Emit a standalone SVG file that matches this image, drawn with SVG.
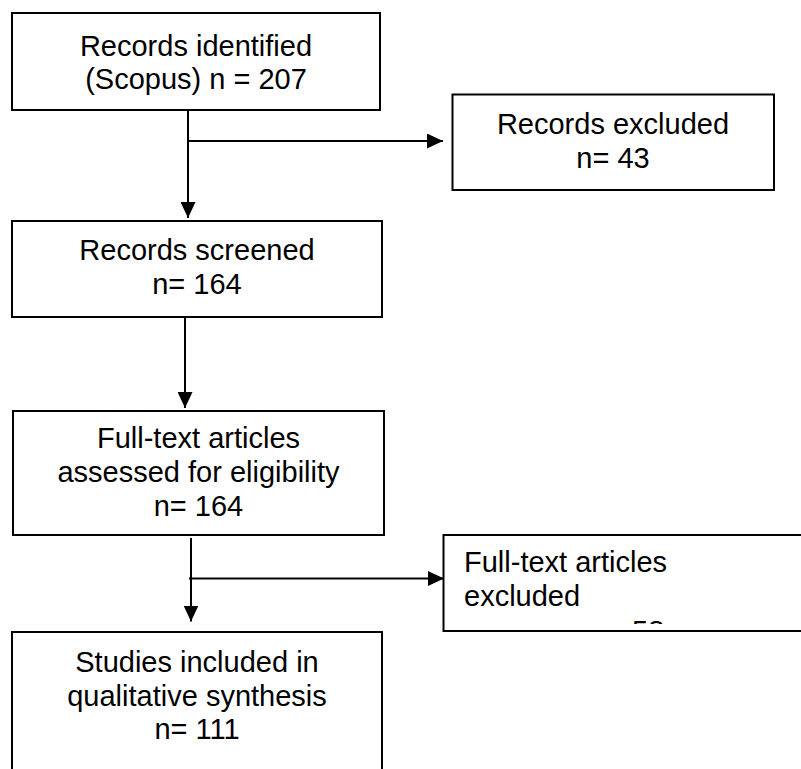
<svg xmlns="http://www.w3.org/2000/svg" width="801" height="769" viewBox="0 0 801 769">
  <style>
    .box { fill: #ffffff; stroke: #000000; stroke-width: 2; }
    .t { font-family: "Liberation Sans", Arial, sans-serif; font-size: 29px; fill: #000000; }
    .c { text-anchor: middle; }
    .l { text-anchor: start; }
    .edge { fill: none; stroke: #000000; stroke-width: 2; }
  </style>
  <defs>
    <marker id="arrow" viewBox="0 0 16 15" refX="16" refY="7.5" markerWidth="16" markerHeight="15" markerUnits="userSpaceOnUse" orient="auto">
      <path d="M0,0 L16,7.5 L0,15 Z" fill="#000000"/>
    </marker>
    <clipPath id="clipExcl">
      <rect x="443" y="535" width="370" height="89"/>
    </clipPath>
  </defs>
  <rect width="801" height="769" fill="#ffffff"/>

  <g id="connectors">
    <path class="edge" d="M188,103 L188,218" marker-end="url(#arrow)"/>
    <path class="edge" d="M187,141 L443,141" marker-end="url(#arrow)"/>
    <path class="edge" d="M185,309 L185,408" marker-end="url(#arrow)"/>
    <path class="edge" d="M191,538 L191,621.5" marker-end="url(#arrow)"/>
    <path class="edge" d="M189,578.5 L444,578.5" marker-end="url(#arrow)"/>
  </g>

  <g id="records-identified">
    <rect class="box" x="12" y="13" width="368" height="97"/>
    <text class="t c" x="196" y="56">Records identified</text>
    <text class="t c" x="196" y="89">(Scopus) n = 207</text>
  </g>

  <g id="records-excluded">
    <rect class="box" x="452.5" y="94.5" width="321.5" height="95.5"/>
    <text class="t c" x="613" y="133.5">Records excluded</text>
    <text class="t c" x="613" y="167.5">n= 43</text>
  </g>

  <g id="records-screened">
    <rect class="box" x="12" y="221" width="370" height="96"/>
    <text class="t c" x="197" y="260">Records screened</text>
    <text class="t c" x="197" y="294">n= 164</text>
  </g>

  <g id="full-text-assessed">
    <rect class="box" x="13" y="411" width="371" height="124"/>
    <text class="t c" x="198.5" y="448">Full-text articles</text>
    <text class="t c" x="198.5" y="482">assessed for eligibility</text>
    <text class="t c" x="198.5" y="516">n= 164</text>
  </g>

  <g id="full-text-excluded">
    <rect class="box" x="443.5" y="535" width="380" height="96"/>
    <text class="t l" x="464" y="571.5">Full-text articles</text>
    <text class="t l" x="464" y="606">excluded</text>
    <text class="t l" x="591" y="640.5" clip-path="url(#clipExcl)">n= 58</text>
  </g>

  <g id="studies-included">
    <rect class="box" x="12" y="632" width="370" height="160"/>
    <text class="t c" x="197" y="672">Studies included in</text>
    <text class="t c" x="197" y="705.5">qualitative synthesis</text>
    <text class="t c" x="197" y="739">n= 111</text>
  </g>
</svg>
